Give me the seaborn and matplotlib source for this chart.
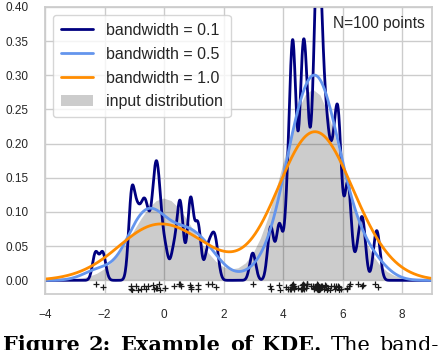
import numpy as np
import matplotlib
matplotlib.use("Agg")
import matplotlib.pyplot as plt
import seaborn as sns

# 100 sample points (30 around 0, 70 around 5), read from the "+" marks
samples_left = [
    1.624, -0.612, -0.528, -1.073, 0.865, -2.302, 1.745, -0.761, 0.319, -0.249,
    1.462, -2.060, -0.322, -0.384, 1.134, -1.100, -0.172, -0.878, 0.042, 0.583,
    -1.101, 1.145, 0.902, 0.502, 0.901, -0.684, -0.123, -0.936, -0.268, 0.530,
]
samples_right = [
    4.308, 4.603, 4.313, 4.155, 4.329, 4.987, 3.883, 5.234, 6.660, 5.742,
    4.808, 4.112, 4.253, 6.692, 5.051, 4.363, 5.191, 7.100, 5.120, 5.617,
    5.300, 4.648, 3.857, 4.651, 4.791, 5.587, 5.839, 5.931, 5.286, 5.885,
    4.246, 6.253, 5.513, 4.702, 5.489, 4.924, 6.132, 6.520, 7.186, 3.604,
    3.556, 4.496, 5.160, 5.876, 5.316, 2.978, 4.694, 5.828, 5.230, 5.762,
    4.778, 4.799, 5.187, 5.410, 5.198, 5.119, 4.329, 5.378, 5.122, 6.129,
    6.199, 5.185, 4.625, 4.361, 5.423, 5.077, 4.656, 5.044, 4.380, 5.698,
]
# vertical jitter of the "+" marks under the axis
jitter = [
    -0.006, -0.012, -0.009, -0.014, -0.007, -0.006, -0.010, -0.013, -0.008, -0.011,
    -0.006, -0.010, -0.013, -0.007, -0.012, -0.009, -0.006, -0.014, -0.011, -0.008,
    -0.013, -0.007, -0.010, -0.006, -0.012, -0.009, -0.014, -0.008, -0.011, -0.006,
    -0.010, -0.013, -0.007, -0.012, -0.006, -0.009, -0.014, -0.011, -0.008, -0.012,
    -0.006, -0.010, -0.013, -0.007, -0.011, -0.009, -0.014, -0.006, -0.012, -0.008,
    -0.010, -0.013, -0.007, -0.011, -0.006, -0.014, -0.009, -0.012, -0.008, -0.010,
    -0.013, -0.006, -0.011, -0.007, -0.014, -0.009, -0.012, -0.006, -0.010, -0.013,
    -0.008, -0.011, -0.007, -0.014, -0.009, -0.006, -0.012, -0.010, -0.013, -0.008,
    -0.011, -0.006, -0.014, -0.007, -0.012, -0.009, -0.010, -0.013, -0.006, -0.011,
    -0.008, -0.014, -0.007, -0.012, -0.009, -0.010, -0.006, -0.013, -0.011, -0.008,
]

# input distribution (grey area), read every 0.25
dist_x = [-4 + 0.25 * i for i in range(53)]
dist_y = [
    0.0000, 0.0001, 0.0003, 0.0006, 0.0013, 0.0027, 0.0053, 0.0095, 0.0162, 0.0259,
    0.0389, 0.0548, 0.0726, 0.0903, 0.1056, 0.1160, 0.1197, 0.1160, 0.1056, 0.0904,
    0.0727, 0.0550, 0.0395, 0.0273, 0.0193, 0.0159, 0.0176, 0.0249, 0.0391, 0.0610,
    0.0909, 0.1279, 0.1694, 0.2108, 0.2465, 0.2707, 0.2792, 0.2707, 0.2465, 0.2108,
    0.1694, 0.1278, 0.0907, 0.0604, 0.0378, 0.0222, 0.0123, 0.0064, 0.0031, 0.0014,
    0.0006, 0.0002, 0.0001,
]

bandwidths = [0.1, 0.5, 1.0]
colors = ["navy", "cornflowerblue", "darkorange"]

caption_words = ["Figure", "2:", "Example", "of", "KDE.", "The", "band-"]
caption_bold = [True, True, True, True, True, False, False]

sns.set_theme(style="whitegrid")
plt.rcParams["font.family"] = ["Liberation Sans", "DejaVu Sans"]

samples = np.array(samples_left + samples_right)
sd = np.std(samples, ddof=1)

fig = plt.figure(figsize=(4.42, 3.5), dpi=100)
ax = fig.add_axes([0.1018, 0.16, 0.8756, 0.82])

for bw, color in zip(bandwidths, colors):
    sns.kdeplot(x=samples, bw_method=bw / sd, gridsize=1500, cut=100,
                clip=(-4, 9), color=color, lw=2,
                label="bandwidth = {0}".format(bw), ax=ax)

fill = ax.fill(dist_x, dist_y, fc="black", alpha=0.2, lw=0,
               label="input distribution")

ax.plot(samples, jitter, "+k", ms=5, mew=0.9)

ax.text(5.68, 0.369, "N=100 points", fontsize=11.2, color="#262626")

handles = ax.get_lines()[:3] + fill
ax.legend(handles=handles, labels=[h.get_label() for h in handles],
          loc="upper left", fontsize=11.5, handlelength=2.0,
          labelspacing=0.55, borderpad=0.5)

ax.set_xlim(-4, 9)
ax.set_ylim(-0.02, 0.4)
ax.set_ylabel("")
ax.tick_params(labelsize=8.5)
ax.tick_params(axis="x", pad=5)
ax.tick_params(axis="y", pad=6)

# caption strip, justified across the width and cut by the bottom edge
fig.canvas.draw()
renderer = fig.canvas.get_renderer()
texts = []
for w, b in zip(caption_words, caption_bold):
    t = fig.text(0, -0.002, w, family="DejaVu Serif",
                 fontweight="bold" if b else "normal",
                 fontsize=15, va="baseline", ha="left", color="black")
    texts.append(t)
widths = [t.get_window_extent(renderer).width for t in texts]
left, right = 3, 439
gap = (right - left - sum(widths)) / (len(texts) - 1)
xpos = left
for t, wd in zip(texts, widths):
    t.set_x(xpos / 442)
    xpos += wd + gap

fig.savefig("out.png", dpi=100)
